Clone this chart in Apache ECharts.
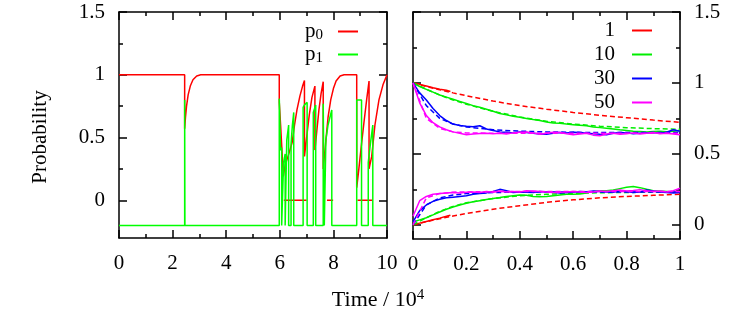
<!DOCTYPE html>
<html><head><meta charset="utf-8">
<script src="https://cdn.jsdelivr.net/npm/echarts@6/dist/echarts.min.js"></script>
<style>html,body{margin:0;padding:0;background:#fff}#c{width:747px;height:319px}</style>
</head><body><div id="c"></div>
<script>
// ---------- Left panel (Time / 10^4 from 0 to 10) ----------
const leftXTicks = [0, 2, 4, 6, 8, 10];
const leftYMajor = [0, 0.5, 1, 1.5];
const leftYMinor = [0.25, 0.75, 1.25];
// p0 (red) main trace, [time, value]
const p0Trace = [
  [0,1],[2.45,1],[2.45,0.57],[2.48,0.66],[2.52,0.75],[2.58,0.84],[2.66,0.91],[2.76,0.96],[2.9,0.99],[3.05,1],
  [5.98,1],[5.98,0.78],[6.03,0.6],[6.08,0.4],[6.13,0.19],[6.2,0.28],[6.35,0.38],[6.46,0.46],[6.55,0.6],
  [6.64,0.72],[6.75,0.83],[6.85,0.91],[6.92,0.955],[6.92,0.35],[7.0,0.5],[7.1,0.68],[7.2,0.82],[7.31,0.91],
  [7.31,0.4],[7.38,0.55],[7.46,0.72],[7.54,0.85],[7.62,0.945],[7.62,0.25],[7.72,0.48],[7.8,0.66],[7.9,0.8],
  [8.0,0.89],[8.1,0.95],[8.25,0.99],[8.4,1],[8.87,1],[8.87,0.1],[8.95,0.25],[9.05,0.45],[9.14,0.62],
  [9.24,0.8],[9.33,0.95],[9.33,0.25],[9.43,0.35],[9.55,0.6],[9.7,0.8],[9.85,0.92],[10,1.0]
];
// p0 (red) segments lying at zero
const p0Zero = [[6.15,0],[7.0,0],'-',[7.76,0],[7.99,0],'-',[8.9,0],[9.45,0]];
// p1 (green), drawn offset by -0.2
const p1Trace = [
  [0,-0.2],[2.45,-0.2],[2.45,0.8],[2.46,-0.2],
  [5.98,-0.2],[5.98,0.81],[6.03,0.81],[6.03,0.4],[6.07,0.42],[6.07,-0.2],
  [6.14,-0.2],[6.14,0.3],[6.2,0.37],[6.2,-0.2],
  [6.26,-0.2],[6.26,0.48],[6.33,0.6],[6.33,-0.2],
  [6.42,-0.2],[6.42,0.45],[6.47,0.6],[6.52,0.7],[6.52,-0.2],
  [6.87,-0.2],[6.87,0.74],[6.92,0.76],[7.02,0.78],[7.02,-0.2],
  [7.25,-0.2],[7.25,0.7],[7.34,0.76],[7.34,-0.2],
  [7.62,-0.2],[7.62,0.77],[7.66,0.77],[7.66,-0.2],
  [7.72,-0.2],[7.72,0.48],[7.8,0.6],[7.94,0.72],[7.94,-0.2],
  [8.87,-0.2],[8.87,0.8],[9.05,0.8],[9.05,-0.2],
  [9.3,-0.2],[9.3,0.3],[9.38,0.45],[9.47,0.6],[9.47,-0.2],
  [10,-0.2]
];

// ---------- Right panel (0 to 1) ----------
const rightYMajor = [0, 0.5, 1, 1.5];
const rightYMinor = [0.25, 0.75, 1.25];
const tFine = [0,0.025,0.05,0.075,0.1,0.125,0.15,0.175,0.2,0.225,0.25,0.275,0.3,0.325,0.35,0.375,0.4,0.425,0.45,0.475,0.5,
  0.525,0.55,0.575,0.6,0.625,0.65,0.675,0.7,0.725,0.75,0.775,0.8,0.825,0.85,0.875,0.9,0.925,0.95,0.975,1];
const tShort = [0,0.025,0.05,0.075,0.1,0.125,0.14];
const tDash = [0,0.05,0.1,0.15,0.2,0.3,0.4,0.5,0.6,0.7,0.8,0.9,1];

// solid (simulated) upper curves
const up1 = [1.0,0.99,0.978,0.966,0.955,0.948,0.94];
const up10 = [1.0,0.975,0.955,0.935,0.915,0.9,0.885,0.87,0.855,0.84,0.828,0.815,0.8,0.785,0.775,0.765,0.758,0.75,0.742,0.735,
  0.725,0.718,0.715,0.71,0.706,0.702,0.698,0.69,0.685,0.68,0.676,0.67,0.665,0.66,0.658,0.655,0.658,0.66,0.656,0.66,0.665];
const up30 = [1.0,0.93,0.88,0.82,0.77,0.735,0.71,0.7,0.695,0.692,0.698,0.676,0.665,0.655,0.652,0.648,0.655,0.65,0.645,0.64,
  0.638,0.645,0.65,0.648,0.652,0.65,0.645,0.642,0.638,0.635,0.645,0.65,0.648,0.642,0.645,0.648,0.65,0.645,0.652,0.67,0.66];
const up50 = [1.0,0.86,0.77,0.72,0.69,0.67,0.655,0.645,0.635,0.64,0.643,0.645,0.642,0.645,0.64,0.648,0.652,0.655,0.648,0.638,
  0.645,0.652,0.65,0.642,0.635,0.64,0.645,0.632,0.628,0.64,0.645,0.638,0.642,0.648,0.64,0.645,0.65,0.642,0.645,0.64,0.635];
// solid lower curves
const lo1 = [0,0.012,0.024,0.036,0.047,0.06,0.068];
const lo10 = [0.02,0.035,0.05,0.07,0.09,0.11,0.125,0.14,0.152,0.162,0.17,0.178,0.185,0.192,0.2,0.205,0.21,0.208,0.2,0.198,
  0.2,0.205,0.21,0.215,0.215,0.218,0.225,0.235,0.24,0.24,0.245,0.255,0.265,0.27,0.262,0.25,0.24,0.238,0.235,0.232,0.23];
const lo30 = [0.02,0.1,0.14,0.165,0.18,0.19,0.195,0.2,0.205,0.215,0.22,0.225,0.235,0.25,0.24,0.228,0.232,0.23,0.228,0.235,
  0.232,0.23,0.225,0.228,0.23,0.235,0.232,0.238,0.235,0.232,0.23,0.24,0.235,0.228,0.232,0.245,0.238,0.232,0.228,0.225,0.228];
const lo50 = [0.06,0.17,0.2,0.215,0.22,0.225,0.228,0.225,0.23,0.232,0.228,0.235,0.23,0.238,0.232,0.235,0.232,0.24,0.238,0.235,
  0.232,0.228,0.23,0.232,0.235,0.232,0.228,0.232,0.238,0.235,0.24,0.245,0.238,0.242,0.248,0.24,0.235,0.238,0.232,0.24,0.258];
// dashed (theory) curves
const upD1 = [1.0,0.975,0.952,0.93,0.91,0.872,0.84,0.815,0.792,0.772,0.755,0.738,0.722];
const upD10 = [1.0,0.955,0.915,0.88,0.85,0.8,0.76,0.73,0.71,0.695,0.685,0.678,0.673];
const upD30 = [1.0,0.84,0.75,0.71,0.69,0.67,0.66,0.655,0.652,0.65,0.65,0.65,0.65];
const upD50 = [1.0,0.75,0.68,0.655,0.648,0.645,0.645,0.645,0.645,0.645,0.645,0.645,0.645];
const loD1 = [0,0.022,0.043,0.062,0.08,0.11,0.135,0.158,0.176,0.19,0.2,0.208,0.215];
const loD10 = [0,0.05,0.095,0.13,0.155,0.185,0.205,0.215,0.222,0.226,0.228,0.23,0.23];
const loD30 = [0,0.14,0.19,0.21,0.22,0.228,0.23,0.232,0.232,0.232,0.232,0.232,0.232];
const loD50 = [0,0.19,0.22,0.23,0.232,0.234,0.234,0.234,0.234,0.234,0.234,0.234,0.234];

const rightNames = ['1', '10', '30', '50'];
const rightColors = ['#ff0000', '#00ee00', '#0000ff', '#ff00ff'];

// ---------- chart ----------
const FONT = 'Liberation Serif';
const BLACK = '#000';
const LW = 1.5;
const FS = 21;

function zip(xs, ys) { return xs.map((x, i) => [x, ys[i]]); }

function xAxisDef(grid, pos, min, max, interval, labels) {
  return {
    gridIndex: grid, type: 'value', position: pos, min: min, max: max, interval: interval,
    axisLine: { show: true, onZero: false, lineStyle: { color: BLACK, width: LW } },
    axisTick: { show: true, inside: true, length: 8, lineStyle: { color: BLACK, width: LW } },
    minorTick: { show: true, splitNumber: 2, length: 4, lineStyle: { color: BLACK, width: LW } },
    splitLine: { show: false }, minorSplitLine: { show: false },
    axisLabel: { show: labels, margin: 15, color: BLACK, fontFamily: FONT, fontSize: FS }
  };
}
function yAxisDef(grid, pos, min, max, vals, major, labels) {
  return {
    gridIndex: grid, type: 'value', position: pos, min: min, max: max,
    axisLine: { show: major, onZero: false, lineStyle: { color: BLACK, width: LW } },
    axisTick: { show: true, inside: true, length: major ? 8 : 4, customValues: vals, lineStyle: { color: BLACK, width: LW } },
    splitLine: { show: false },
    axisLabel: { show: labels, customValues: vals, margin: 14, color: BLACK, fontFamily: FONT, fontSize: FS,
      formatter: v => String(v) }
  };
}
function line(name, xi, yi, data, color, dashed, z) {
  return {
    name: name, type: 'line', xAxisIndex: xi, yAxisIndex: yi, data: data,
    symbol: 'none', showSymbol: false, connectNulls: false, animation: false, z: z || 2,
    lineStyle: { color: color, width: LW, type: dashed ? [5, 3] : 'solid' },
    itemStyle: { color: color }
  };
}

const series = [];
series.push(line('p0', 0, 0, p0Trace, '#ff0000', false, 2));
series.push(line('p0', 0, 0, p0Zero, '#ff0000', false, 2));
series.push(line('p1', 0, 0, p1Trace, '#00ff00', false, 3));

const upSolid = [up1, up10, up30, up50];
const loSolid = [lo1, lo10, lo30, lo50];
const upDash = [upD1, upD10, upD30, upD50];
const loDash = [loD1, loD10, loD30, loD50];
for (let k = 0; k < 4; k++) {
  const tx = k === 0 ? tShort : tFine;
  series.push(line(rightNames[k], 2, 4, zip(tDash, upDash[k]), rightColors[k], true, 2 + k));
  series.push(line(rightNames[k], 2, 4, zip(tDash, loDash[k]), rightColors[k], true, 2 + k));
  series.push(line(rightNames[k], 2, 4, zip(tx, upSolid[k]), rightColors[k], false, 2 + k));
  series.push(line(rightNames[k], 2, 4, zip(tx, loSolid[k]), rightColors[k], false, 2 + k));
}

const option = {
  backgroundColor: '#fff',
  animation: false,
  grid: [
    { left: 119, right: 360, top: 12, bottom: 81 },
    { left: 413, right: 67, top: 12, bottom: 80 }
  ],
  xAxis: [
    xAxisDef(0, 'bottom', 0, 10, 2, true),
    xAxisDef(0, 'top', 0, 10, 2, false),
    xAxisDef(1, 'bottom', 0, 1, 0.2, true),
    xAxisDef(1, 'top', 0, 1, 0.2, false)
  ],
  yAxis: [
    yAxisDef(0, 'left', -0.3, 1.5, leftYMajor, true, true),
    yAxisDef(0, 'left', -0.3, 1.5, leftYMinor, false, false),
    yAxisDef(0, 'right', -0.3, 1.5, leftYMajor, true, false),
    yAxisDef(0, 'right', -0.3, 1.5, leftYMinor, false, false),
    yAxisDef(1, 'right', -0.1, 1.5, rightYMajor, true, true),
    yAxisDef(1, 'right', -0.1, 1.5, rightYMinor, false, false),
    yAxisDef(1, 'left', -0.1, 1.5, rightYMajor, true, false),
    yAxisDef(1, 'left', -0.1, 1.5, rightYMinor, false, false)
  ],
  legend: [
    {
      data: ['p0', 'p1'], orient: 'vertical', right: 389, top: 21, align: 'right',
      icon: 'rect', itemWidth: 20, itemHeight: 2, itemGap: 1, padding: 0,
      formatter: n => 'p{s|' + n.slice(1) + '}',
      textStyle: { fontFamily: FONT, fontSize: FS, color: BLACK, padding: [0, 10, 0, 0],
        rich: { s: { fontFamily: FONT, fontSize: 15, color: BLACK, verticalAlign: 'bottom', padding: [8, 0, 0, 0] } } }
    },
    {
      data: rightNames, orient: 'vertical', right: 95, top: 20, align: 'right',
      icon: 'rect', itemWidth: 20, itemHeight: 2, itemGap: 3, padding: 0,
      textStyle: { fontFamily: FONT, fontSize: FS, color: BLACK, padding: [0, 12, 0, 0] }
    }
  ],
  graphic: [
    { type: 'text', x: 40, y: 137, rotation: Math.PI / 2,
      style: { text: 'Probability', fontFamily: FONT, fontSize: FS, fill: BLACK, align: 'center', verticalAlign: 'middle' } },
    { type: 'text', x: 378, y: 300,
      style: { text: '{a|Time / 10}{s|4}', align: 'center', verticalAlign: 'middle', fill: BLACK,
        rich: { a: { fontFamily: FONT, fontSize: 22, fill: BLACK }, s: { fontFamily: FONT, fontSize: 15, fill: BLACK, verticalAlign: 'top', padding: [0, 0, 10, 0] } } } }
  ],
  series: series
};
const chart = echarts.init(document.getElementById('c'), null, { renderer: 'canvas' });
chart.setOption(option);
</script></body></html>
